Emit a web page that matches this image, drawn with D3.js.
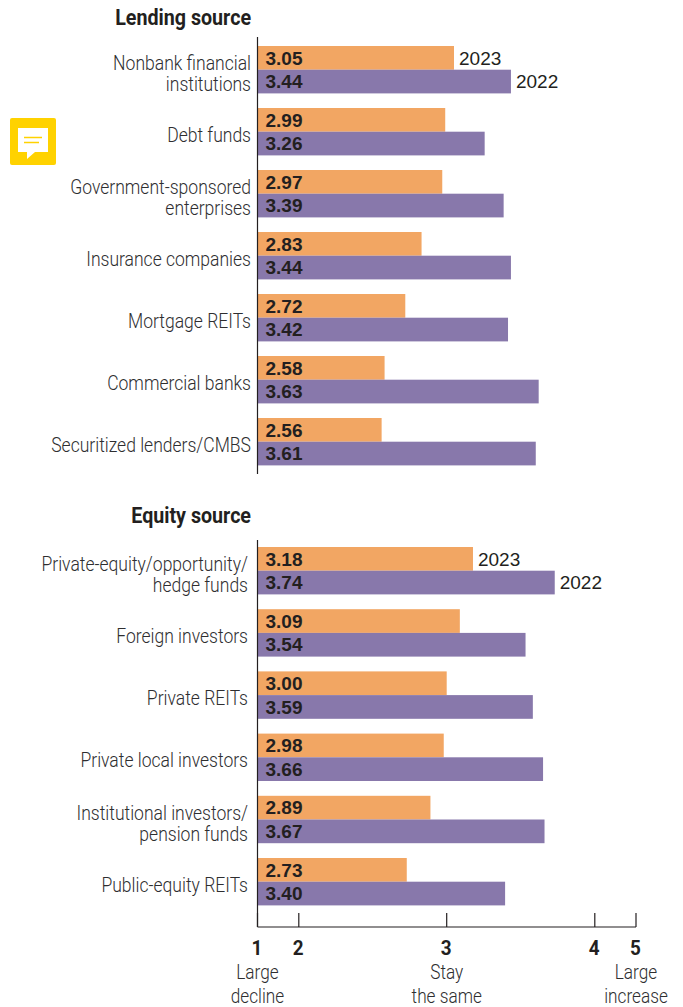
<!DOCTYPE html>
<html><head><meta charset="utf-8">
<script src="https://cdn.jsdelivr.net/npm/d3@7"></script>
<style>
html,body{margin:0;padding:0;background:#fff}
svg{display:block}
.cat,.note{font-family:Roboto,"Liberation Sans",sans-serif;font-weight:300;fill:#2e2e30;font-size:21px}
.head{font-family:Roboto,"Liberation Sans",sans-serif;font-weight:700;fill:#231f20;font-size:21.5px}
.val{font-family:"Liberation Sans",sans-serif;font-weight:700;fill:#231f20;font-size:19px}
.yr{font-family:"Liberation Sans",sans-serif;fill:#231f20;font-size:19px}
.tick-n{font-family:Roboto,"Liberation Sans",sans-serif;font-weight:700;fill:#231f20;font-size:21px}
</style></head><body>
<svg id="c" width="683" height="1007" viewBox="0 0 683 1007"></svg>
<script>
const lendingCats=[["Nonbank financial","institutions"],["Debt funds"],["Government-sponsored","enterprises"],["Insurance companies"],["Mortgage REITs"],["Commercial banks"],["Securitized lenders/CMBS"]];
const lending2023=[3.05,2.99,2.97,2.83,2.72,2.58,2.56];
const lending2022=[3.44,3.26,3.39,3.44,3.42,3.63,3.61];
const equityCats=[["Private-equity/opportunity/","hedge funds"],["Foreign investors"],["Private REITs"],["Private local investors"],["Institutional investors/","pension funds"],["Public-equity REITs"]];
const equity2023=[3.18,3.09,3.00,2.98,2.89,2.73];
const equity2022=[3.74,3.54,3.59,3.66,3.67,3.40];
const axisTicks=[1,2,3,4,5];
const axisNotes=[[1,["Large","decline"]],[3,["Stay","the same"]],[5,["Large","increase"]]];
const seriesYears=["2023","2022"];
const seriesColors=["#f2a663","#8878ab"];

const svg=d3.select("#c");
const axisX=d3.scaleLinear().domain(axisTicks).range([257.5,298.8,446.7,594.8,636]);
const barX=d3.scaleLinear().domain([1,2,3,4]).range([257.5,298.8,446.7,592.7]);

const SX=0.835;
function squeezed(parent,cls,str,px,py,anchor,sx){
  return parent.append("text").attr("class",cls).attr("text-anchor",anchor)
    .attr("transform",`translate(${px},${py}) scale(${sx},1)`).text(str);
}

function panel(title,titleY,cats,a,b,y0,step,lineTop,lineBottom,labelX){
  const g=svg.append("g");
  const idx=d3.range(cats.length);
  const y=d3.scaleLinear().domain([0,1]).range([y0,y0+step]);
  const rows=g.selectAll("g.row").data(idx).join("g").attr("class","row");
  [a,b].forEach((vals,s)=>{
    rows.append("rect")
      .attr("x",barX(1))
      .attr("y",i=>y(i)+s*23.7)
      .attr("width",i=>barX(vals[i])-barX(1))
      .attr("height",23.7)
      .attr("fill",seriesColors[s]);
    rows.append("text").attr("class","val")
      .attr("x",265.5)
      .attr("y",i=>y(i)+s*23.7+18.5)
      .text(i=>vals[i].toFixed(2));
    g.append("text").attr("class","yr")
      .attr("x",barX(vals[0])+5)
      .attr("y",y(0)+s*23.7+18.5)
      .text(seriesYears[s]);
  });
  rows.each(function(i){
    const lines=cats[i];
    lines.forEach((l,k)=>{
      const py=lines.length===2?y(i)+24+k*21.2:y(i)+33.7;
      squeezed(d3.select(this),"cat",l,labelX,py,"end",SX);
    });
  });
  squeezed(g,"head",title,251,titleY,"end",0.915);
  g.append("line").attr("x1",axisX(1)).attr("x2",axisX(1)).attr("y1",lineTop).attr("y2",lineBottom).attr("stroke","#231f20").attr("stroke-width",1.2);
}
panel("Lending source",25,lendingCats,lending2023,lending2022,46,62,37,474,251);
panel("Equity source",523,equityCats,equity2023,equity2022,547,62.2,540,927,248);

const ax=svg.append("g");
ax.append("line").attr("x1",axisX(1)).attr("x2",axisX(5)).attr("y1",927).attr("y2",927).attr("stroke","#231f20").attr("stroke-width",1.2);
ax.selectAll("line.t").data(axisTicks).join("line").attr("class","t")
  .attr("x1",d=>axisX(d)).attr("x2",d=>axisX(d)).attr("y1",913).attr("y2",927)
  .attr("stroke","#231f20").attr("stroke-width",1.2);
axisTicks.forEach(d=>squeezed(ax,"tick-n",d,axisX(d)-0.5,955,"middle",0.9));
axisNotes.forEach(([v,ls])=>{
  ls.forEach((l,k)=>squeezed(ax,"note",l,axisX(v),979+k*23.5,"middle",0.82));
});

const ic=svg.append("g");
ic.append("rect").attr("x",10).attr("y",118).attr("width",46).attr("height",47).attr("rx",2).attr("fill","#ffd200");
ic.append("path").attr("d","M18 128H48V152H35L27 159V152H18Z").attr("fill","#fff");
ic.append("path").attr("d","M24 137.5H42M24 142.5H39").attr("stroke","#ffd200").attr("stroke-width",1.3);
</script>
</body></html>
